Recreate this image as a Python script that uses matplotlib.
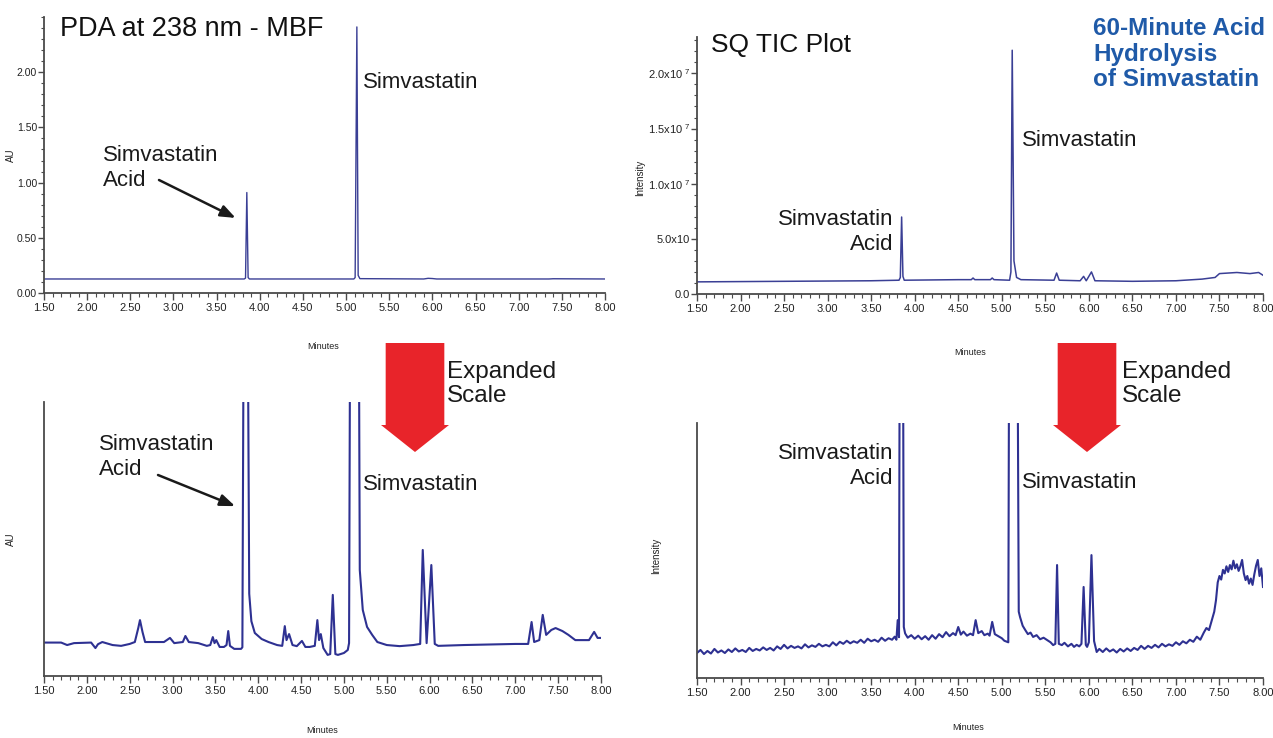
import matplotlib
matplotlib.use("Agg")
import matplotlib.pyplot as plt
from matplotlib.patches import FancyArrow
from matplotlib.ticker import MultipleLocator, FixedLocator

plt.rcParams['font.family'] = ['Liberation Sans', 'DejaVu Sans']
plt.rcParams['mathtext.default'] = 'regular'

# ---------------- data ----------------
x_ticks = [1.5, 2.0, 2.5, 3.0, 3.5, 4.0, 4.5, 5.0, 5.5, 6.0, 6.5, 7.0, 7.5, 8.0]
x_tick_labels = ["1.50", "2.00", "2.50", "3.00", "3.50", "4.00", "4.50",
                 "5.00", "5.50", "6.00", "6.50", "7.00", "7.50", "8.00"]

pda_y_ticks = [0.0, 0.5, 1.0, 1.5, 2.0]
pda_y_labels = ["0.00", "0.50", "1.00", "1.50", "2.00"]
tic_y_ticks = [0.0, 5.0e6, 1.0e7, 1.5e7, 2.0e7]
tic_y_labels = ["0.0", "5.0x10", "1.0x10 $^{7}$", "1.5x10 $^{7}$", "2.0x10 $^{7}$"]

# PDA at 238 nm (AU), full scale
pda_t = [1.50, 3.82, 3.835, 3.85, 3.865, 3.88, 5.09, 5.105, 5.125, 5.14, 5.16,
         5.90, 5.95, 6.00, 6.05, 7.35, 7.40, 8.00]
pda_v = [0.127, 0.127, 0.135, 0.91, 0.14, 0.127, 0.127, 0.14, 2.41, 0.16, 0.13,
         0.127, 0.133, 0.131, 0.127, 0.127, 0.129, 0.127]

# SQ TIC (intensity), full scale
tic_t = [1.50, 2.50, 3.50, 3.82, 3.835, 3.85, 3.865, 3.88, 4.50, 4.65, 4.67, 4.69,
         4.87, 4.89, 4.91, 5.09, 5.105, 5.12, 5.14, 5.17, 5.22, 5.60, 5.63, 5.66,
         5.90, 5.94, 5.97, 6.03, 6.07, 6.50, 7.00, 7.30, 7.45, 7.50, 7.70, 7.85,
         7.95, 8.00]
tic_v = [1.10e6, 1.15e6, 1.20e6, 1.25e6, 1.5e6, 6.98e6, 1.6e6, 1.25e6, 1.30e6,
         1.30e6, 1.45e6, 1.30e6, 1.30e6, 1.45e6, 1.30e6, 1.25e6, 2.0e6, 22.1e6,
         3.0e6, 1.5e6, 1.30e6, 1.25e6, 1.9e6, 1.25e6, 1.20e6, 1.6e6, 1.20e6,
         2.0e6, 1.20e6, 1.15e6, 1.20e6, 1.35e6, 1.5e6, 1.85e6, 1.95e6, 1.85e6,
         1.95e6, 1.7e6]

# PDA expanded scale (relative units)
pdax_t = [1.50, 1.70, 1.77, 1.85, 2.05, 2.10, 2.13, 2.18, 2.30, 2.40, 2.50, 2.56,
          2.60, 2.62, 2.65, 2.68, 2.90, 2.97, 3.02, 3.12, 3.15, 3.19, 3.30, 3.40,
          3.44, 3.47, 3.49, 3.51, 3.55, 3.60, 3.63, 3.65, 3.67, 3.72, 3.80, 3.815,
          3.85, 3.895, 3.92, 3.96, 4.04, 4.12, 4.22, 4.28, 4.31, 4.33, 4.36, 4.40,
          4.45, 4.51, 4.55, 4.60, 4.66, 4.69, 4.71, 4.73, 4.76, 4.81, 4.84, 4.87,
          4.90, 4.93, 5.00, 5.045, 5.06, 5.12, 5.185, 5.22, 5.27, 5.33, 5.39, 5.50,
          5.65, 5.81, 5.89, 5.92, 5.965, 6.02, 6.06, 6.10, 6.40, 6.70, 7.00, 7.15,
          7.19, 7.22, 7.28, 7.32, 7.36, 7.42, 7.47, 7.55, 7.62, 7.70, 7.80, 7.86,
          7.92, 7.96, 7.99]
pdax_v = [12.2, 12.2, 11.3, 12.0, 12.2, 10.2, 11.6, 12.4, 11.3, 11.0, 11.7, 12.4,
          17.5, 20.4, 16.0, 12.4, 12.4, 13.9, 12.0, 12.4, 14.6, 12.4, 12.0, 11.0,
          11.3, 14.2, 12.0, 13.1, 10.6, 10.6, 11.3, 16.4, 11.0, 9.9, 9.9, 10.5,
          300.0, 30.0, 20.0, 15.7, 13.5, 12.4, 11.3, 11.0, 18.2, 13.1, 15.3, 11.3,
          10.9, 12.8, 10.6, 10.6, 11.0, 20.4, 13.1, 15.3, 10.2, 7.7, 8.0, 29.6,
          8.0, 7.7, 8.4, 9.5, 12.0, 600.0, 38.7, 24.1, 17.9, 15.0, 12.4, 11.3,
          10.9, 11.3, 11.7, 46.0, 12.0, 40.5, 11.7, 11.0, 11.3, 11.5, 11.7, 11.7,
          19.7, 12.4, 13.1, 22.3, 15.0, 16.8, 17.5, 16.4, 15.0, 13.1, 13.1, 13.1,
          16.1, 13.9, 13.9]

# SQ TIC expanded scale (relative units)
ticx_t = [1.50, 1.54, 1.58, 1.62, 1.66, 1.70, 1.74, 1.78, 1.82, 1.86, 1.90, 1.94,
          1.98, 2.02, 2.06, 2.10, 2.14, 2.18, 2.22, 2.26, 2.30, 2.34, 2.38, 2.42,
          2.46, 2.50, 2.54, 2.58, 2.62, 2.66, 2.70, 2.74, 2.78, 2.82, 2.86, 2.90,
          2.94, 2.98, 3.02, 3.06, 3.10, 3.14, 3.18, 3.22, 3.26, 3.30, 3.34, 3.38,
          3.42, 3.46, 3.50, 3.54, 3.58, 3.62, 3.66, 3.70, 3.74, 3.77, 3.79, 3.805,
          3.82, 3.845, 3.875, 3.89, 3.92, 3.96, 4.00, 4.04, 4.08, 4.12, 4.16, 4.20,
          4.24, 4.28, 4.32, 4.36, 4.40, 4.44, 4.47, 4.50, 4.53, 4.56, 4.60, 4.64,
          4.67, 4.70, 4.73, 4.77, 4.80, 4.84, 4.86, 4.89, 4.92, 4.96, 5.00, 5.03,
          5.075, 5.12, 5.195, 5.21, 5.24, 5.27, 5.30, 5.33, 5.36, 5.40, 5.44, 5.48,
          5.52, 5.56, 5.59, 5.615, 5.635, 5.655, 5.69, 5.72, 5.76, 5.80, 5.83, 5.86,
          5.89, 5.915, 5.94, 5.965, 5.98, 6.00, 6.03, 6.06, 6.09, 6.12, 6.16, 6.20,
          6.24, 6.28, 6.32, 6.36, 6.40, 6.44, 6.48, 6.52, 6.56, 6.60, 6.64, 6.68,
          6.72, 6.76, 6.80, 6.84, 6.88, 6.92, 6.96, 7.00, 7.04, 7.08, 7.12, 7.16,
          7.20, 7.24, 7.28, 7.32, 7.35, 7.38, 7.41, 7.44, 7.46, 7.48, 7.50, 7.52,
          7.54, 7.56, 7.58, 7.60, 7.62, 7.64, 7.66, 7.68, 7.70, 7.72, 7.74, 7.76,
          7.78, 7.80, 7.82, 7.84, 7.86, 7.88, 7.90, 7.92, 7.94, 7.96, 7.98, 8.00]
ticx_v = [9.8, 11.0, 9.4, 10.6, 9.6, 11.4, 10.0, 10.8, 9.8, 11.2, 10.2, 11.6,
          10.4, 11.0, 10.2, 11.8, 10.6, 11.4, 10.8, 12.0, 11.0, 11.8, 10.8, 12.4,
          11.4, 13.0, 11.6, 12.6, 11.8, 12.4, 11.6, 13.2, 12.0, 12.8, 12.2, 13.4,
          12.4, 13.0, 12.4, 14.0, 12.8, 14.2, 13.4, 14.6, 13.6, 14.4, 13.8, 15.0,
          13.8, 15.4, 14.4, 15.0, 14.2, 15.8, 14.6, 15.6, 15.0, 16.2, 15.0, 22.7,
          16.0, 400.0, 20.0, 17.5, 15.8, 16.8, 15.4, 16.6, 15.2, 16.4, 15.0, 16.8,
          15.4, 17.2, 16.0, 18.0, 16.4, 17.6, 16.8, 20.0, 17.0, 18.2, 16.6, 17.4,
          16.8, 22.7, 17.6, 18.4, 16.8, 17.4, 16.6, 22.0, 17.2, 16.4, 15.6, 14.6,
          14.0, 600.0, 26.0, 23.9, 20.5, 18.8, 17.2, 17.8, 16.1, 16.8, 15.2, 15.8,
          14.9, 14.0, 12.9, 13.4, 44.3, 13.4, 12.9, 13.8, 12.4, 13.4, 12.2, 13.0,
          12.4, 13.4, 35.7, 13.0, 12.2, 14.0, 48.2, 14.5, 10.2, 11.4, 10.2, 11.6,
          10.4, 11.2, 10.0, 11.4, 10.4, 11.6, 10.6, 11.8, 11.0, 12.6, 11.4, 12.6,
          11.8, 13.0, 12.0, 13.4, 12.4, 13.2, 12.6, 14.0, 13.0, 14.4, 13.6, 15.0,
          14.2, 16.2, 15.0, 17.8, 19.6, 18.8, 22.4, 26.0, 30.5, 37.5, 40.0, 38.6,
          42.4, 41.0, 43.8, 41.6, 44.3, 42.6, 46.0, 43.0, 44.6, 42.0, 43.8, 46.3,
          41.0, 38.4, 40.0, 37.0, 39.0, 36.5, 40.6, 44.0, 46.3, 40.0, 43.0, 35.7]

# ---------------- styling ----------------
LINE = "#2e3192"
AXC = "#4a4a4a"
TXT = "#222222"
NARROW = ['Liberation Sans Narrow', 'Liberation Sans', 'DejaVu Sans']

fig = plt.figure(figsize=(12.73, 7.38), dpi=100)


def style_axes(ax, show_y):
    for s in ("top", "right"):
        ax.spines[s].set_visible(False)
    for s in ("left", "bottom"):
        ax.spines[s].set_color(AXC)
        ax.spines[s].set_linewidth(1.3)
    ax.set_xlim(1.5, 8.0)
    ax.xaxis.set_major_locator(FixedLocator(x_ticks))
    ax.set_xticklabels(x_tick_labels)
    ax.xaxis.set_minor_locator(MultipleLocator(0.1))
    ax.tick_params(axis="x", which="major", direction="out", length=5, width=1.0,
                   color=AXC, labelsize=8, labelcolor=TXT, pad=2)
    ax.tick_params(axis="x", which="minor", direction="out", length=3, width=0.8,
                   color=AXC)
    for lab in ax.get_xticklabels():
        lab.set_family(NARROW)
    if not show_y:
        ax.set_yticks([])


# Top-left: PDA
ax1 = fig.add_axes([44/1273, 1-293/738, 561/1273, 276/738])
ax1.plot(pda_t, pda_v, color="#3a3f95", lw=1.0)
style_axes(ax1, True)
ax1.set_ylim(0, 2.5)
ax1.yaxis.set_major_locator(FixedLocator(pda_y_ticks))
ax1.set_yticklabels(pda_y_labels)
ax1.yaxis.set_minor_locator(MultipleLocator(0.1))
ax1.tick_params(axis="y", which="major", direction="out", length=4, width=1.0,
                color=AXC, labelsize=7.5, labelcolor=TXT, pad=1)
ax1.tick_params(axis="y", which="minor", direction="out", length=2.5, width=0.8,
                color=AXC)
for lab in ax1.get_yticklabels():
    lab.set_family(NARROW)

# Top-right: TIC
ax2 = fig.add_axes([697/1273, 1-294/738, 566/1273, 257/738])
ax2.plot(tic_t, tic_v, color="#3a3f95", lw=1.1)
style_axes(ax2, True)
ax2.set_ylim(0, 2.33e7)
ax2.yaxis.set_major_locator(FixedLocator(tic_y_ticks))
ax2.set_yticklabels(tic_y_labels)
ax2.yaxis.set_minor_locator(MultipleLocator(1.0e6))
ax2.tick_params(axis="y", which="major", direction="out", length=4, width=1.0,
                color=AXC, labelsize=8, labelcolor=TXT, pad=1)
ax2.tick_params(axis="y", which="minor", direction="out", length=2.5, width=0.8,
                color=AXC)
for lab in ax2.get_yticklabels():
    lab.set_family(NARROW)

# Bottom-left: PDA expanded
ax3 = fig.add_axes([44/1273, 1-676/738, 557/1273, 274/738])
ax3.plot(pdax_t, pdax_v, color=LINE, lw=1.5)
style_axes(ax3, False)
ax3.set_ylim(0, 100)

# Bottom-right: TIC expanded
ax4 = fig.add_axes([697/1273, 1-678/738, 566/1273, 255/738])
ax4.plot(ticx_t, ticx_v, color=LINE, lw=1.5)
style_axes(ax4, False)
ax4.set_ylim(0, 100)

# axis labels
for ax, (lx, ly), ylab, (yx, yy) in [
        (ax1, (0.497, -0.178), "AU", (-0.050, 0.50)),
        (ax2, (0.482, -0.21), "Intensity", (-0.092, 0.45)),
        (ax3, (0.50, -0.182), "AU", (-0.050, 0.50)),
        (ax4, (0.479, -0.176), "Intensity", (-0.064, 0.48))]:
    ax.set_xlabel("Minutes", fontsize=6.5, family=NARROW, color=TXT)
    ax.xaxis.set_label_coords(lx, ly)
    ax.set_ylabel(ylab, fontsize=7, color=TXT)
    ax.yaxis.set_label_coords(yx, yy)

W, H = 1273.0, 738.0


def fx(px):
    return px / W


def fy(py):
    return 1 - py / H


# titles
fig.text(fx(60), fy(29), "PDA at 238 nm - MBF", fontsize=19.5, color="#111111",
         ha="left", va="center")
fig.text(fx(711), fy(45), "SQ TIC Plot", fontsize=19, color="#111111",
         ha="left", va="center")
fig.text(fx(1093), fy(54), "60-Minute Acid\nHydrolysis\nof Simvastatin",
         fontsize=17.5, fontweight="bold", color="#1f5aa8", ha="left",
         va="center", linespacing=1.15)

LBL = 16
LS = 1.2
# top-left labels
ax1.annotate("", xy=(3.72, 0.68), xycoords="data",
             xytext=(fx(159), fy(180)), textcoords="figure fraction",
             arrowprops=dict(arrowstyle="-|>,head_length=0.9,head_width=0.35",
                             color="#1a1a1a", lw=1.8, shrinkA=0, shrinkB=0))
fig.text(fx(103), fy(168), "Simvastatin\nAcid", fontsize=LBL, color="#1a1a1a",
         ha="left", va="center", linespacing=LS)
fig.text(fx(363), fy(83), "Simvastatin", fontsize=LBL, color="#1a1a1a",
         ha="left", va="center")

# top-right labels
fig.text(fx(893), fy(232), "Simvastatin\nAcid", fontsize=LBL, color="#1a1a1a",
         ha="right", va="center", linespacing=LS)
fig.text(fx(1022), fy(141), "Simvastatin", fontsize=LBL, color="#1a1a1a",
         ha="left", va="center")

# bottom-left labels
ax3.annotate("", xy=(3.73, 62.0), xycoords="data",
             xytext=(fx(158), fy(475)), textcoords="figure fraction",
             arrowprops=dict(arrowstyle="-|>,head_length=0.9,head_width=0.35",
                             color="#1a1a1a", lw=1.8, shrinkA=0, shrinkB=0))
fig.text(fx(99), fy(457), "Simvastatin\nAcid", fontsize=LBL, color="#1a1a1a",
         ha="left", va="center", linespacing=LS)
fig.text(fx(363), fy(485), "Simvastatin", fontsize=LBL, color="#1a1a1a",
         ha="left", va="center")

# bottom-right labels
fig.text(fx(893), fy(466), "Simvastatin\nAcid", fontsize=LBL, color="#1a1a1a",
         ha="right", va="center", linespacing=LS)
fig.text(fx(1022), fy(482), "Simvastatin", fontsize=LBL, color="#1a1a1a",
         ha="left", va="center")

# red "Expanded Scale" arrows
RED = "#e8242a"
for cx, tx in [(415, 447), (1087, 1122)]:
    arr = FancyArrow(fx(cx), fy(343), 0, fy(452) - fy(343),
                     width=34 / H, head_width=68 / W,
                     head_length=27 / H, length_includes_head=True,
                     transform=fig.transFigure, color=RED, ec="none")
    fig.patches.append(arr)
    fig.text(fx(tx), fy(384), "Expanded\nScale", fontsize=17.5, color="#1a1a1a",
             ha="left", va="center", linespacing=1.15)

fig.savefig("out.png", dpi=100, facecolor="white")
